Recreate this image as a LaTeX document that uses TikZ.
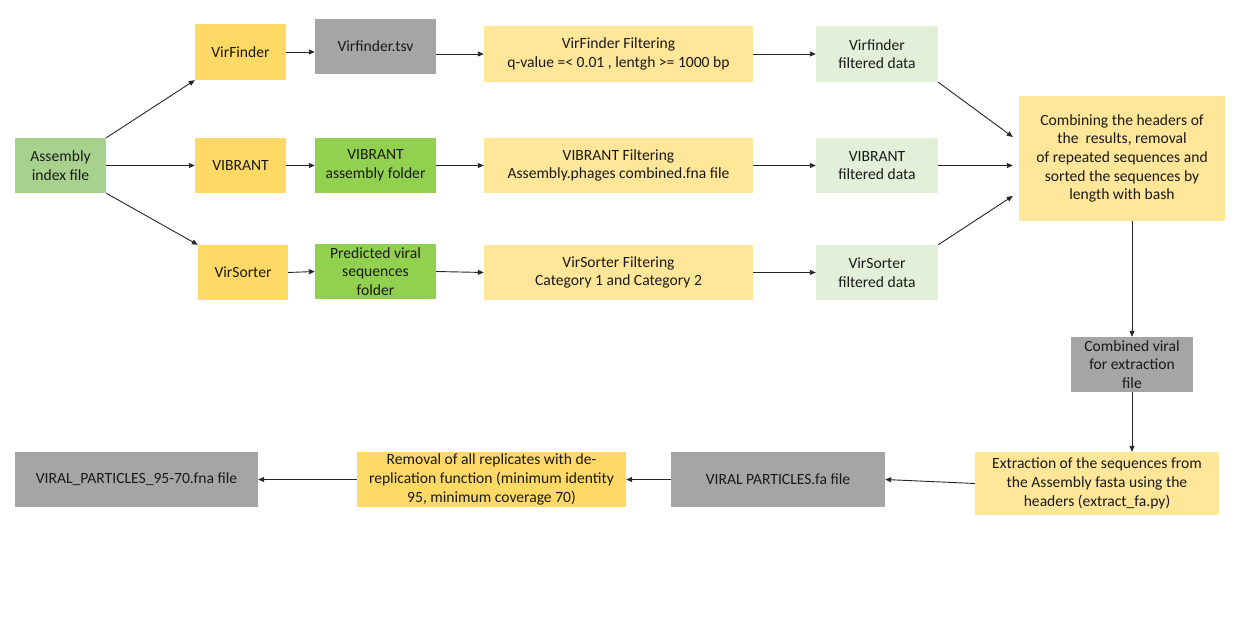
\documentclass[tikz,border=0pt]{standalone}
\usepackage{fontspec}
\setmainfont{Carlito}
\usetikzlibrary{arrows.meta}
\definecolor{cAsm}{HTML}{A9D18E}
\definecolor{cTool}{HTML}{FFD966}
\definecolor{cGray}{HTML}{A5A5A5}
\definecolor{cGreen}{HTML}{92D050}
\definecolor{cLY}{HTML}{FFE699}
\definecolor{cLG}{HTML}{E2F0D9}
\definecolor{cTxt}{HTML}{1A1A1A}
\definecolor{cLine}{HTML}{262626}
\begin{document}
\begin{tikzpicture}[x=1pt,y=-1pt,
  box/.style={inner sep=0pt, align=center, text=cTxt, font=\fontsize{15.6}{18.7}\selectfont},
  arr/.style={draw=cLine, line width=0.9pt, -{Triangle[length=6pt,width=5pt]}}]
\useasboundingbox[fill=white] (0,0) rectangle (1234,617);
% row 1
\node[box, fill=cAsm, minimum width=91pt, minimum height=55pt] (asm) at (60.5,165.5) {Assembly\\index file};
\node[box, fill=cTool, minimum width=91pt, minimum height=56pt] (vf) at (240.5,52) {VirFinder};
\node[box, fill=cGray, minimum width=121pt, minimum height=55pt] (tsv) at (375.5,46.5) {Virfinder.tsv};
\node[box, fill=cLY, minimum width=269pt, minimum height=56pt] (vfilt) at (618.5,54) {VirFinder Filtering\\q-value =< 0.01 , lentgh >= 1000 bp};
\node[box, fill=cLG, minimum width=122pt, minimum height=56pt] (vfd) at (877,54) {Virfinder\\filtered data};
% row 2
\node[box, fill=cTool, minimum width=91pt, minimum height=55pt] (vb) at (240.5,165.5) {VIBRANT};
\node[box, fill=cGreen, minimum width=121pt, minimum height=55pt] (vbf) at (375.5,165.5) {VIBRANT\\assembly folder};
\node[box, fill=cLY, minimum width=269pt, minimum height=55pt] (vbfilt) at (618.5,165.5) {VIBRANT Filtering\\Assembly.phages combined.fna file};
\node[box, fill=cLG, minimum width=122pt, minimum height=55pt] (vbd) at (877,165.5) {VIBRANT\\filtered data};
% row 3
\node[box, fill=cTool, minimum width=90pt, minimum height=55pt] (vs) at (243,272.5) {VirSorter};
\node[box, fill=cGreen, minimum width=121pt, minimum height=55pt] (pv) at (375.5,271.5) {Predicted viral\\sequences\\folder};
\node[box, fill=cLY, minimum width=269pt, minimum height=55pt] (vsfilt) at (618.5,272.5) {VirSorter Filtering\\Category 1 and Category 2};
\node[box, fill=cLG, minimum width=122pt, minimum height=55pt] (vsd) at (877,272.5) {VirSorter\\filtered data};
% right column
\node[box, fill=cLY, minimum width=206pt, minimum height=125pt] (comb) at (1122,158.5) {Combining the headers of\\the\ \ results, removal\\of repeated sequences and\\sorted the sequences by\\length with bash};
\node[box, fill=cGray, minimum width=122pt, minimum height=55pt] (cv) at (1132,364.5) {Combined viral\\for extraction\\file};
\node[box, fill=cLY, minimum width=244pt, minimum height=63pt] (ext) at (1097,483.5) {Extraction of the sequences from\\the Assembly fasta using the\\headers (extract\_fa.py)};
% bottom row
\node[box, fill=cGray, minimum width=214pt, minimum height=55pt] (vpfa) at (778,479.5) {VIRAL PARTICLES.fa file};
\node[box, fill=cTool, minimum width=269pt, minimum height=55pt] (rem) at (491.5,479.5) {Removal of all replicates with de-\\replication function (minimum identity\\95, minimum coverage 70)};
\node[box, fill=cGray, minimum width=243pt, minimum height=55pt] (vp) at (136.5,479.5) {VIRAL\_PARTICLES\_95-70.fna file};
% connectors
\draw[arr] (asm.north east) -- (vf.south west);
\draw[arr] (asm.east) -- (vb.west);
\draw[arr] (asm.south east) -- (vs.north west);
\draw[arr] (vf.east) -- (tsv.west |- vf.east);
\draw[arr] (tsv.east |- vfilt.west) -- (vfilt.west);
\draw[arr] (vfilt.east) -- (vfd.west);
\draw[arr] (vb.east) -- (vbf.west);
\draw[arr] (vbf.east) -- (vbfilt.west);
\draw[arr] (vbfilt.east) -- (vbd.west);
\draw[arr] (vs.east) -- (pv.west);
\draw[arr] (pv.east) -- (vsfilt.west);
\draw[arr] (vsfilt.east) -- (vsd.west);
\draw[arr] (vfd.south east) -- ([xshift=-6pt,yshift=21.5pt]comb.west);
\draw[arr] (vbd.east) -- ([xshift=-6pt]comb.west |- vbd.east);
\draw[arr] (vsd.north east) -- ([xshift=-6pt,yshift=-37.5pt]comb.west);
\draw[arr] (comb.south -| cv.north) -- (cv.north);
\draw[arr] (cv.south) -- (cv.south |- ext.north);
\draw[arr] (ext.west) -- (vpfa.east);
\draw[arr] (vpfa.west) -- (rem.east);
\draw[arr] (rem.west) -- (vp.east);
\end{tikzpicture}
\end{document}
